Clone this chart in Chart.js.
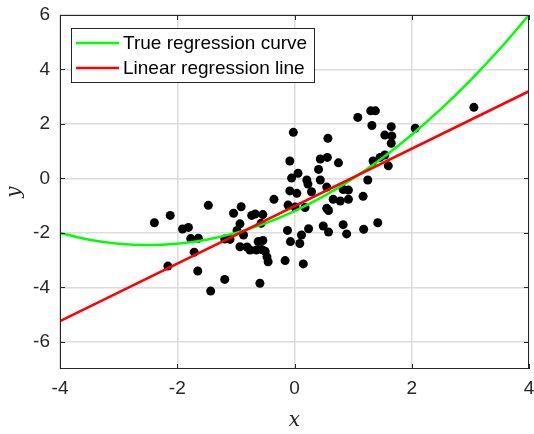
<!DOCTYPE html>
<html>
<head>
<meta charset="utf-8">
<script src="https://cdn.jsdelivr.net/npm/chart.js@4.4.0/dist/chart.umd.min.js"></script>
<style>
  html, body { margin: 0; padding: 0; background: #fff; }
</style>
</head>
<body>
<canvas id="chart" width="534" height="434"></canvas>
<script>
// sample observations
const sampleX = [-2.39, -2.12, -2.16, -1.91, -1.81, -1.77, -1.64, -1.71, -1.65, -1.47,
  -1.43, -1.19, -1.04, -0.91, -0.73, -0.67, -0.54, -0.35, -0.93, -0.98,
  -0.87, -1.19, -1.10, -0.93, -0.81, -0.76, -0.62, -0.54, -0.65, -0.56,
  -0.50, -0.47, -0.45, -0.59, -0.57, -0.02, 0.57, -0.08, 0.06, -0.05,
  0.21, 0.23, 0.44, 0.56, 0.41, 0.44, 0.55, -0.08, 0.04, 0.29,
  -0.11, 0.01, 0.18, 0.55, 0.58, -0.12, 0.24, 0.49, 0.12, 0.58,
  -0.07, 0.09, -0.16, 0.15, 1.08, 1.30, 1.38, 1.32, 1.65, 1.54,
  1.66, 1.65, 0.75, 1.34, 1.46, 1.54, 1.60, 1.25, 0.83, 0.92,
  0.66, 0.78, 0.92, 1.17, 0.83, 0.89, 1.18, 1.42, 2.06, 3.06];
const sampleY = [-1.63, -1.36, -3.22, -1.86, -1.80, -2.21, -2.20, -2.71, -3.40, -0.99,
  -4.14, -3.71, -1.28, -1.04, -1.36, -1.31, -1.33, -0.77, -1.67, -1.91,
  -2.08, -2.23, -2.24, -2.51, -2.52, -2.63, -2.32, -2.28, -2.63, -2.61,
  -2.68, -2.88, -3.06, -3.85, -1.65, 1.69, 1.47, 0.64, 0.19, 0.01,
  -0.06, -0.21, 0.71, 0.77, 0.33, -0.06, -0.32, -0.46, -0.55, -0.49,
  -0.98, -1.05, -1.07, -1.10, -1.18, -1.91, -1.85, -1.75, -2.08, -1.97,
  -2.32, -2.39, -3.02, -3.14, 2.24, 2.48, 2.48, 1.94, 1.90, 1.59,
  1.56, 1.29, 0.57, 0.64, 0.77, 0.86, 0.46, -0.06, -0.41, -0.43,
  -0.77, -0.83, -0.77, -0.66, -1.70, -2.04, -1.87, -1.63, 1.84, 2.61];

// true regression curve, read along x
const curveX = [-4, -3.5, -3, -2.5, -2, -1.5, -1, -0.5, 0, 0.5, 1, 1.5, 2, 2.5, 3, 3.5, 4];
const curveY = [-2.0, -2.25, -2.4, -2.45, -2.4, -2.25, -2.0, -1.65, -1.2, -0.65, 0.0, 0.75, 1.6, 2.55, 3.6, 4.75, 6.0];

// fitted linear regression line
const fitX = [-4, 4];
const fitY = [-5.24, 3.2];

const xTicks = [-4, -2, 0, 2, 4];
const yTicks = [-6, -4, -2, 0, 2, 4, 6];
const legendLabels = ['True regression curve', 'Linear regression line'];
const legendColors = ['#00ff00', '#ff0000'];

const axisColor = '#262626';
const tickFont = { family: 'Liberation Sans, Arial, sans-serif', size: 19 };
const titleFont = { family: 'DejaVu Serif, serif', size: 20, style: 'italic' };

const toPoints = (xs, ys) => xs.map((x, i) => ({ x: x, y: ys[i] }));

// no extra room for overhanging end labels, the layout padding covers it
const noOverhang = s => {
  s.paddingTop = 0; s.paddingBottom = 0; s.paddingLeft = 0; s.paddingRight = 0;
};

// box, inward tick marks and legend drawn over the data
const framePlugin = {
  id: 'frame',
  afterDatasetsDraw(chart) {
    const { ctx, chartArea: a, scales: { x, y } } = chart;
    ctx.save();
    ctx.strokeStyle = axisColor;
    ctx.lineWidth = 1;
    ctx.strokeRect(a.left + 0.5, a.top + 0.5, a.width - 1, a.height - 1);

    ctx.beginPath();
    xTicks.forEach(v => {
      const px = Math.round(x.getPixelForValue(v)) + 0.5;
      ctx.moveTo(px, a.bottom); ctx.lineTo(px, a.bottom - 5);
      ctx.moveTo(px, a.top); ctx.lineTo(px, a.top + 5);
    });
    yTicks.forEach(v => {
      const py = Math.round(y.getPixelForValue(v)) + 0.5;
      ctx.moveTo(a.left, py); ctx.lineTo(a.left + 5, py);
      ctx.moveTo(a.right, py); ctx.lineTo(a.right - 5, py);
    });
    ctx.stroke();

    // legend
    const lx = a.left + 11, ly = a.top + 13, lw = 243, lh = 54;
    ctx.fillStyle = '#fff';
    ctx.fillRect(lx, ly, lw, lh);
    ctx.strokeStyle = axisColor;
    ctx.strokeRect(lx + 0.5, ly + 0.5, lw, lh);
    ctx.font = '19px "Liberation Sans", Arial, sans-serif';
    ctx.textBaseline = 'middle';
    legendLabels.forEach((label, i) => {
      const cy = ly + 15 + i * 25;
      ctx.strokeStyle = legendColors[i];
      ctx.lineWidth = 2.5;
      ctx.beginPath();
      ctx.moveTo(lx + 5, cy); ctx.lineTo(lx + 48, cy);
      ctx.stroke();
      ctx.fillStyle = '#000';
      ctx.fillText(label, lx + 52, cy + 1);
    });
    ctx.restore();
  }
};

new Chart(document.getElementById('chart'), {
  type: 'scatter',
  data: {
    datasets: [
      {
        type: 'line',
        data: toPoints(fitX, fitY),
        borderColor: '#ff0000',
        borderWidth: 2.5,
        pointRadius: 0,
        fill: false,
        order: 0
      },
      {
        type: 'line',
        data: toPoints(curveX, curveY),
        borderColor: '#00ff00',
        borderWidth: 2.5,
        pointRadius: 0,
        cubicInterpolationMode: 'monotone',
        fill: false,
        order: 1
      },
      {
        data: toPoints(sampleX, sampleY),
        backgroundColor: '#000',
        borderWidth: 0,
        pointRadius: 4.5,
        order: 2
      }
    ]
  },
  options: {
    responsive: false,
    animation: false,
    devicePixelRatio: 1,
    layout: { padding: { top: 15, right: 5, left: 0, bottom: 0 } },
    plugins: { legend: { display: false }, tooltip: { enabled: false } },
    scales: {
      x: {
        type: 'linear',
        min: -4,
        max: 4,
        afterBuildTicks: s => { s.ticks = xTicks.map(v => ({ value: v })); },
        afterFit: s => { s.height = 65; noOverhang(s); },
        grid: { color: '#dcdcdc', lineWidth: 1.5, drawTicks: false },
        border: { display: false },
        ticks: { color: axisColor, font: tickFont, padding: 8, maxRotation: 0 },
        title: { display: true, text: 'x', color: axisColor, font: titleFont, padding: { top: 0, bottom: 1 } }
      },
      y: {
        type: 'linear',
        min: -7,
        max: 6,
        afterBuildTicks: s => { s.ticks = yTicks.map(v => ({ value: v })); },
        afterFit: s => { s.width = 60; noOverhang(s); },
        grid: { color: '#dcdcdc', lineWidth: 1.5, drawTicks: false },
        border: { display: false },
        ticks: { color: axisColor, font: tickFont, padding: 10 },
        title: { display: true, text: 'y', color: axisColor, font: titleFont, padding: { top: 3, bottom: 0 } }
      }
    }
  },
  plugins: [framePlugin]
});
</script>
</body>
</html>
